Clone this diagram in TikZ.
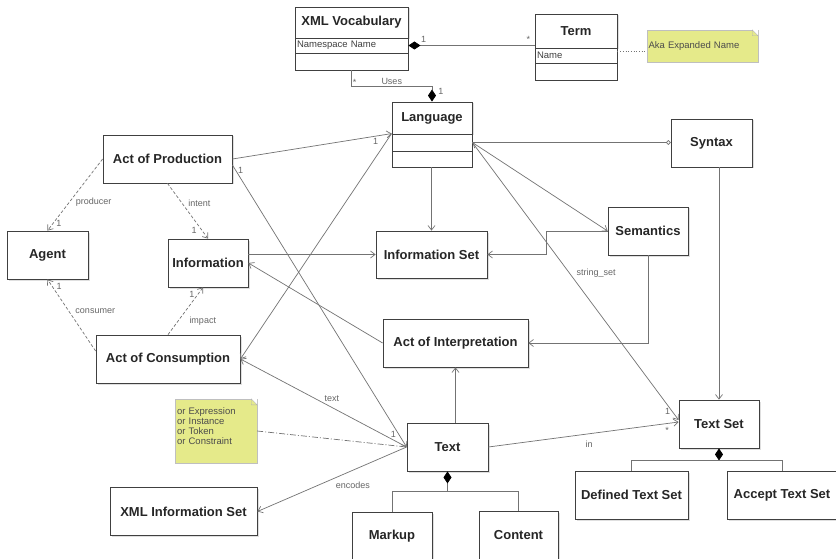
\documentclass[tikz,border=0pt]{standalone}
\usepackage{fontspec}
\setmainfont{Liberation Sans}
\usetikzlibrary{arrows.meta}
\usetikzlibrary{quotes}
\usetikzlibrary{shadows}

\definecolor{notey}{RGB}{229,234,138}

\tikzset{
  cls/.style={draw=black!75, line width=0.8pt, fill=white, inner sep=0pt,
    minimum height=48pt, text=black!85, font=\bfseries\fontsize{13}{15}\selectfont,
    drop shadow={opacity=.25, shadow xshift=1.5pt, shadow yshift=-1.5pt}},
  attr/.style={draw=black!75, line width=0.8pt, fill=white, inner xsep=2pt, inner ysep=0pt,
    align=left, text=black!75, font=\fontsize{9.5}{10}\selectfont},
  note/.style={draw=black!25, fill=notey, inner xsep=1.5pt, inner ysep=0pt,
    align=left, text=black!70, font=\fontsize{9.5}{10}\selectfont},
  lnk/.style={draw=black!55, line width=0.7pt},
  arr/.style={lnk, -{Straight Barb[length=4.5pt,width=7pt]}},
  dep/.style={arr, dash pattern=on 3pt off 2pt},
  notelnk/.style={lnk, dash pattern=on 6pt off 2pt on 1pt off 2pt},
  dotlnk/.style={lnk, dotted},
  comp/.style={lnk, {Diamond[length=12pt,width=8pt,color=black]}-},
  lbl/.style={font=\fontsize{9}{10}\selectfont, text=black!60, inner sep=1pt},
}

\begin{document}
\begin{tikzpicture}[x=1pt, y=-1pt, every edge quotes/.style={lbl}]

    \path[use as bounding box, fill=white] (0,0) rectangle (836,559);

    % vocabulary and terms
    \node[cls, minimum width=113pt, minimum height=31pt]            (voc)      at (351.5, 22.5) {XML Vocabulary};
    \node[attr, minimum width=113pt, minimum height=15pt, text width=109pt] (vocattr) at (351.5, 45.5) {Namespace Name};
    \node[attr, minimum width=113pt, minimum height=17pt]          (vocops)   at (351.5, 61.5) {};
    \node[cls, minimum width=82pt, minimum height=34pt]             (term)     at (576, 31)     {Term};
    \node[attr, minimum width=82pt, minimum height=15pt, text width=78pt] (termattr) at (576, 55.5) {Name};
    \node[attr, minimum width=82pt, minimum height=17pt]           (termops)  at (576, 71.5)   {};
    \node[note, minimum width=111pt, minimum height=32pt, text width=108pt] (aka) at (702.5, 46) {Aka Expanded Name};

    % language
    \node[cls, minimum width=80pt, minimum height=32pt]             (lang)     at (432, 118)    {Language};
    \node[attr, minimum width=80pt, minimum height=17pt]           (langattr) at (432, 142.5)  {};
    \node[attr, minimum width=80pt, minimum height=16pt]           (langops)  at (432, 159)    {};
    \node[cls, minimum width=81pt]   (syntax)  at (711.5, 143)  {Syntax};
    \node[cls, minimum width=80pt]   (sem)     at (648, 231)    {Semantics};
    \node[cls, minimum width=111pt, minimum height=47pt] (infoset) at (431.5, 254.5) {Information Set};

    % acts
    \node[cls, minimum width=129pt]  (prod)    at (167.5, 159)  {Act of Production};
    \node[cls, minimum width=81pt]   (agent)   at (47.5, 255)   {Agent};
    \node[cls, minimum width=80pt]   (info)    at (208, 263)    {Information};
    \node[cls, minimum width=144pt]  (cons)    at (168, 359)    {Act of Consumption};
    \node[cls, minimum width=145pt]  (interp)  at (455.5, 343)  {Act of Interpretation};

    % texts
    \node[cls, minimum width=81pt]   (text)    at (447.5, 447)  {Text};
    \node[note, minimum width=82pt, minimum height=64pt, text width=78pt] (kinds) at (216, 431)
        {or Expression\\or Instance\\or Token\\or Constraint\par\vspace*{10pt}};
    \node[cls, minimum width=147pt]  (xmlinfo) at (183.5, 511.5) {XML Information Set};
    \node[cls, minimum width=80pt]   (markup)  at (392, 536)    {Markup};
    \node[cls, minimum width=79pt]   (content) at (518.5, 535)  {Content};
    \node[cls, minimum width=80pt]   (textset) at (719, 424)    {Text Set};
    \node[cls, minimum width=113pt]  (deftext) at (631.5, 495)  {Defined Text Set};
    \node[cls, minimum width=110pt]  (accept)  at (782, 495)    {Accept Text Set};

    % folded corners of the notes
    \foreach \n in {aka, kinds} {
      \fill[white] ([xshift=-6pt]\n.north east) -- (\n.north east) -- ([yshift=-6pt]\n.north east) -- cycle;
      \draw[black!30] ([xshift=-6pt]\n.north east) |- ([yshift=-6pt]\n.north east) -- cycle;
    }

    \draw (vocattr.east) edge[comp, "1" {pos=.12, above=2pt}, "*" {pos=.95, above=2pt}] (vocattr.east -| term.west);
    \draw[dotlnk] ([yshift=-3pt]term.south east) -- ([yshift=-3pt]term.south east -| aka.west);
    \draw[lnk, -{Diamond[length=12pt,width=8pt,color=black]}] (vocops.south) -- ++(0,16)
        -- node[lbl, above] {Uses} node[lbl, pos=.04, above] {*} ++(80.5,0)
        -- node[lbl, pos=.3, right=5pt] {1} (lang.north);

    \draw (prod.east) edge[arr, "1" {pos=.9, below=1pt}] (langattr.north west);
    \draw ([yshift=-6pt]prod.east) edge[arr, "1" {pos=.02, right=1pt}] (text.west);
    \draw (prod.west) edge[dep, "producer" {pos=.6, right=5pt}, "1" {pos=.9, right=2pt}] (agent.north);
    \draw (prod.south) edge[dep, "intent" {pos=.36, right=5pt}, "1" {pos=.85, left=4pt}] (info.north);
    \draw ([yshift=8pt]cons.west) edge[dep, "consumer" {pos=.55, right=5pt}, "1" {pos=.9, right=3pt}] (agent.south);
    \draw (cons.north) edge[dep, "impact" {pos=.29, right=10pt}, "1" {pos=.85, left=2pt}] ([xshift=-5pt]info.south);
    \draw (infoset.west -| info.east) edge[arr] (infoset.west);
    \draw (interp.west) edge[arr] (info.east);
    \draw (langattr.north west) edge[arr] (cons.east);

    \draw (text.west) edge[arr, "text" {pos=.45, above=4pt}, "1" {pos=.08, above=1pt}] (cons.east);
    \draw[notelnk] (kinds.east) -- (text.west);
    \draw (text.west) edge[arr, "encodes" {pos=.36, below=10pt}] (xmlinfo.east);
    \draw (interp.south |- text.north) edge[arr] (interp.south);
    \draw (text.east) edge[arr, "in" {pos=.53, below=6pt}, "*" {pos=.94, below=2pt}] ([yshift=2pt]textset.west);

    \draw (langattr.east) edge[lnk, -{Circle[open, length=4.5pt]}] (langattr.east -| syntax.west);
    \draw (langattr.east) edge[lnk, {Straight Barb[length=4.5pt,width=7pt]}-{Straight Barb[length=4.5pt,width=7pt]}] (sem.west);
    \draw (langattr.east) edge[arr, "string\_set" {pos=.47, right=6pt}, "1" {pos=.97, left=1pt}] ([yshift=4pt]textset.west);
    \draw (langops.south -| infoset.north) edge[arr] (infoset.north);
    \draw[arr] (sem.west) -- ++(-61,0) |- (infoset.east);
    \draw[arr] (sem.south) |- (interp.east);
    \draw (syntax.south -| textset.north) edge[arr] (textset.north);

    % composition
    \coordinate (tj) at ([yshift=-20pt]text.south);
    \draw[comp] (text.south) -- (tj);
    \draw[lnk] (markup.north) |- (tj) -| (content.north);
    \coordinate (sj) at ([yshift=-12pt]textset.south);
    \draw[comp] (textset.south) -- (sj);
    \draw[lnk] (deftext.north) |- (sj) -| (accept.north);
  \end{tikzpicture}
\end{document}
